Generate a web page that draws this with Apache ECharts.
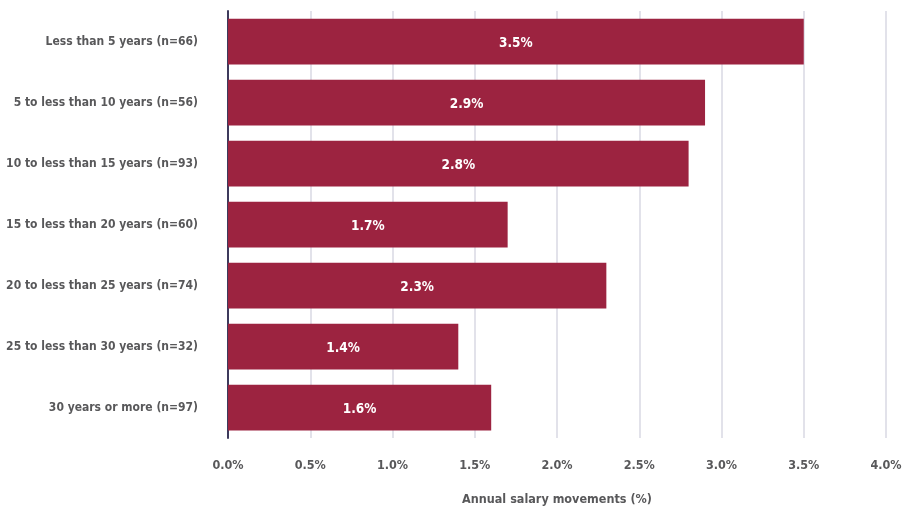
<!DOCTYPE html>
<html>
<head>
<meta charset="utf-8">
<script src="https://cdn.jsdelivr.net/npm/echarts@6/dist/echarts.min.js"></script>
<style>
  html, body { margin: 0; padding: 0; background: #fff; }
  #chart { width: 913px; height: 511px; }
</style>
</head>
<body>
<div id="chart"></div>
<script>
// Years of service bands, top to bottom as displayed
const categories = [
  'Less than 5 years (n=66)',
  '5 to less than 10 years (n=56)',
  '10 to less than 15 years (n=93)',
  '15 to less than 20 years (n=60)',
  '20 to less than 25 years (n=74)',
  '25 to less than 30 years (n=32)',
  '30 years or more (n=97)'
];
// Annual salary movement (%) for each band
const movements = [3.5, 2.9, 2.8, 1.7, 2.3, 1.4, 1.6];
const axisTicks = [0, 0.5, 1.0, 1.5, 2.0, 2.5, 3.0, 3.5, 4.0];

const FONT = '"DejaVu Sans Condensed", "Roboto", sans-serif';
const TEXT = '#58585a';

const chart = echarts.init(document.getElementById('chart'), null, { renderer: 'canvas' });
chart.setOption({
  animation: false,
  grid: { left: 228, right: 27, top: 11, bottom: 73, containLabel: false, outerBoundsMode: 'none' },
  xAxis: {
    type: 'value',
    min: axisTicks[0],
    max: axisTicks[axisTicks.length - 1],
    interval: 0.5,
    name: 'Annual salary movements (%)',
    nameLocation: 'middle',
    nameGap: 55,
    nameTextStyle: { color: TEXT, fontFamily: FONT, fontWeight: 'bold', fontSize: 12.5 },
    axisLine: { show: false },
    axisTick: { show: false },
    axisLabel: {
      color: TEXT, fontFamily: FONT, fontWeight: 'bold', fontSize: 12.5, margin: 21,
      formatter: v => v.toFixed(1) + '%'
    },
    splitLine: { show: true, lineStyle: { color: '#d9d8e3', width: 1.5 } }
  },
  yAxis: {
    type: 'category',
    data: categories,
    inverse: true,
    axisLine: { show: true, lineStyle: { color: '#3d3a5c', width: 2 } },
    axisTick: { show: false },
    axisLabel: { color: TEXT, fontFamily: FONT, fontWeight: 'bold', fontSize: 12, margin: 30 }
  },
  series: [{
    type: 'bar',
    data: movements,
    barCategoryGap: '25%',
    itemStyle: { color: '#9c2340' },
    label: {
      show: true,
      position: 'inside',
      offset: [0, 2],
      color: '#fff',
      fontFamily: FONT,
      fontWeight: 'bold',
      fontSize: 13.5,
      formatter: p => p.value.toFixed(1) + '%'
    }
  }]
});
</script>
</body>
</html>
